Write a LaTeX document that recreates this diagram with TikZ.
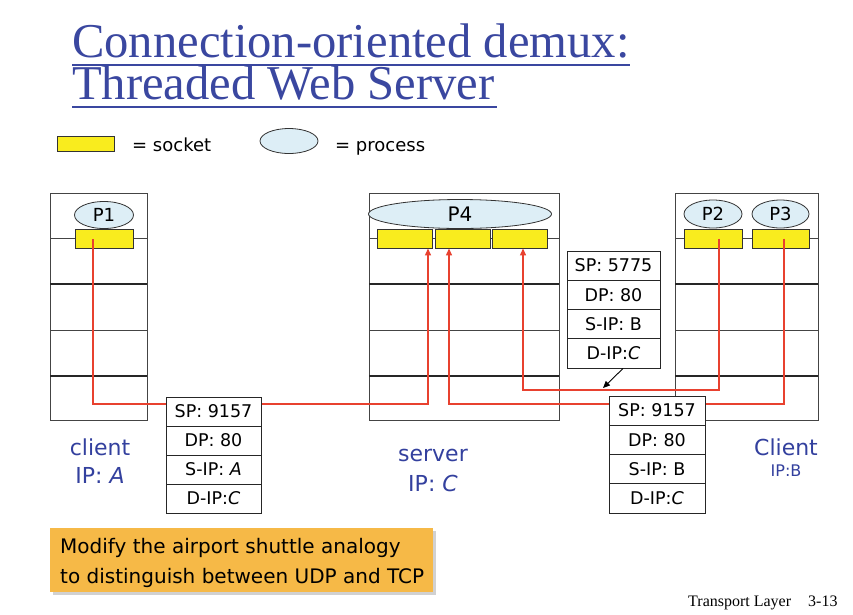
\documentclass[tikz,border=0pt]{standalone}
\usepackage{fontspec}
\setmainfont{Liberation Serif}
\newfontfamily\comic{DejaVu Sans}
\usetikzlibrary{shapes.geometric,arrows.meta}
\definecolor{sockY}{HTML}{F9EC1E}
\definecolor{procB}{HTML}{DDEEF6}
\definecolor{lineR}{HTML}{E8412F}
\definecolor{titleB}{HTML}{3A47A0}
\definecolor{noteO}{HTML}{F6B947}
\definecolor{textB}{HTML}{33409E}
\definecolor{frameG}{HTML}{444444}
\tikzset{
  hostbox/.style={draw=frameG, line width=1pt},
  hostsep/.style={draw=frameG, line width=0.8pt},
  hostsepthick/.style={draw=black!85, line width=1.4pt},
  sock/.style={draw=black!80, fill=sockY, line width=0.9pt, inner sep=0pt, minimum height=19pt},
  proc/.style={ellipse, draw=black!80, fill=procB, line width=0.8pt, inner sep=0pt, font=\comic\fontsize{18}{18}\selectfont},
  pkt/.style={draw=black!85, fill=white, line width=0.9pt, inner sep=0pt, font=\comic\fontsize{17.5}{18}\selectfont},
  rline/.style={draw=lineR, line width=1.3pt},
  rarrow/.style={rline, -{Triangle[length=7pt,width=6pt]}},
  hostlabel/.style={text=textB, font=\comic\fontsize{22}{22}\selectfont, align=center},
  titletext/.style={text=titleB, font=\fontsize{48.6}{42}\selectfont, inner sep=0pt, anchor=base west, align=left},
  legendtext/.style={font=\comic\fontsize{18}{18}\selectfont, anchor=base west, inner sep=0pt},
  notebox/.style={fill=noteO, inner sep=0pt, anchor=north west, minimum width=383pt, minimum height=64pt},
  notetext/.style={anchor=base west, inner sep=0pt, font=\comic\fontsize{20}{20}\selectfont},
}
\begin{document}
\begin{tikzpicture}[x=1pt,y=-1pt]
\useasboundingbox (0,0) rectangle (853,614);
\fill[white] (0,0) rectangle (853,614);

% title (one node, two lines; base = last line)
\node[titletext] (title) at (72,99) {Connection-oriented demux:\\Threaded Web Server};
\draw[titleB, line width=2.4pt] (72,65) -- (630,65);
\draw[titleB, line width=2.4pt] (72,107) -- (497,107);

% legend
\node[sock, minimum width=57pt, minimum height=15pt] (lsock) at (85.5,144) {};
\node[legendtext] (lsockt) at (132,151) {= socket};
\node[proc, minimum width=58pt, minimum height=25pt] (lproc) at (289,141) {};
\node[legendtext] (lproct) at (335,151) {= process};

% client A host
\draw[hostbox] (50,193) rectangle (147,420);
\draw[hostsep] (50,238) -- (147,238);
\draw[hostsepthick] (50,284) -- (147,284);
\draw[hostsep] (50,330) -- (147,330);
\draw[hostsepthick] (50,376) -- (147,376);

% server host
\draw[hostbox] (369,193) rectangle (559,420);
\draw[hostsep] (369,238) -- (559,238);
\draw[hostsepthick] (369,284) -- (559,284);
\draw[hostsep] (369,330) -- (559,330);
\draw[hostsepthick] (369,376) -- (559,376);

% client B host
\draw[hostbox] (675,193) rectangle (818,420);
\draw[hostsep] (675,238) -- (818,238);
\draw[hostsepthick] (675,284) -- (818,284);
\draw[hostsep] (675,330) -- (818,330);
\draw[hostsepthick] (675,376) -- (818,376);

% processes and sockets
\node[proc, minimum width=59pt, minimum height=27pt] (P1) at (104,215) {P1};
\node[sock, minimum width=58pt] (sA) at (104,239) {};

\node[proc, minimum width=183pt, minimum height=29pt, font=\comic\fontsize{20}{20}\selectfont] (P4) at (460,214) {P4};
\node[sock, minimum width=55pt] (sv1) at (404.5,238.5) {};
\node[sock, minimum width=55pt] (sv2) at (462.5,238.5) {};
\node[sock, minimum width=55pt] (sv3) at (519.5,238.5) {};

\node[proc, minimum width=58pt, minimum height=28pt] (P2) at (713,214) {P2};
\node[proc, minimum width=57pt, minimum height=28pt] (P3) at (780.5,214) {P3};
\node[sock, minimum width=58pt] (s2) at (713,238.5) {};
\node[sock, minimum width=57pt] (s3) at (780.5,238.5) {};

% red connections
\coordinate (kA) at (428,404);
\coordinate (kB) at (523,390);
\coordinate (kC) at (449,404);
\draw[rarrow] ([xshift=-11pt]sA.center) |- (kA) -- ([xshift=23.5pt]sv1.south);
\draw[rarrow] ([xshift=6pt]s2.center) |- (kB) -- ([xshift=3.5pt]sv3.south);
\draw[rarrow] ([xshift=3.5pt]s3.center) |- (kC) -- ([xshift=-13.5pt]sv2.south);

% packet from client A
\node[pkt, minimum width=95pt, minimum height=29pt] (a1) at (213.5,411.5) {SP: 9157};
\node[pkt, minimum width=95pt, minimum height=29pt] (a2) at (213.5,440.5) {DP: 80};
\node[pkt, minimum width=95pt, minimum height=29pt] (a3) at (213.5,469.5) {S-IP: \textit{A}};
\node[pkt, minimum width=95pt, minimum height=29pt] (a4) at (213.5,498.5) {D-IP:\textit{C}};

% packet from client B (P2)
\node[pkt, minimum width=93pt, minimum height=29.25pt] (q1) at (613.5,265.6) {SP: 5775};
\node[pkt, minimum width=93pt, minimum height=29.25pt] (q2) at (613.5,294.9) {DP: 80};
\node[pkt, minimum width=93pt, minimum height=29.25pt] (q3) at (613.5,324.1) {S-IP: B};
\node[pkt, minimum width=93pt, minimum height=29.25pt] (q4) at (613.5,353.4) {D-IP:\textit{C}};
\coordinate (qtip) at (603,388);
\draw[black, line width=0.9pt, -{Triangle[length=7pt,width=6pt]}] ([xshift=9.5pt]q4.south) -- (qtip);

% packet from client B (P3)
\node[pkt, minimum width=96pt, minimum height=29.25pt] (b1) at (657,410.6) {SP: 9157};
\node[pkt, minimum width=96pt, minimum height=29.25pt] (b2) at (657,439.9) {DP: 80};
\node[pkt, minimum width=96pt, minimum height=29.25pt] (b3) at (657,469.1) {S-IP: B};
\node[pkt, minimum width=96pt, minimum height=29.25pt] (b4) at (657,498.4) {D-IP:\textit{C}};

% host labels
\node[hostlabel] (lA1) at (100,447) {client};
\node[hostlabel] (lA2) at (100,475) {IP: \textit{A}};
\node[hostlabel] (lS1) at (433,455) {server};
\node[hostlabel] (lS2) at (433,483) {IP: \textit{C}};
\node[hostlabel] (lB1) at (786,447) {Client};
\node[hostlabel, font=\comic\fontsize{16}{16}\selectfont] (lB2) at (786,471) {IP:B};

% note
\fill[black!18] (53,531) rectangle (436,595);
\node[notebox] (note) at (50,528) {};
\node[notetext] (notet1) at (60,553) {Modify the airport shuttle analogy};
\node[notetext] (notet2) at (60,583) {to distinguish between UDP and TCP};

% footer
\node[anchor=base west, inner sep=0pt, font=\fontsize{16}{16}\selectfont] (foot1) at (688,606) {Transport Layer};
\node[anchor=base west, inner sep=0pt, font=\fontsize{16}{16}\selectfont] (foot2) at (808,606) {3-13};
\end{tikzpicture}
\end{document}
